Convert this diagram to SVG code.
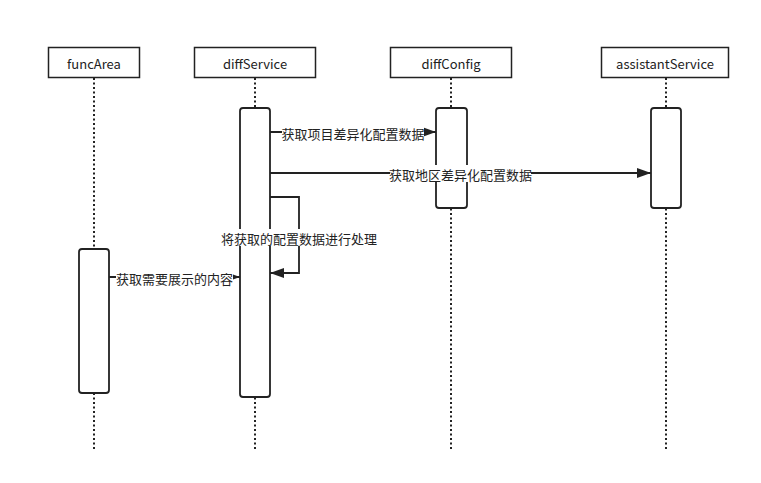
<svg xmlns="http://www.w3.org/2000/svg" width="761" height="483" viewBox="0 0 761 483">
<style>
text{font-family:"Noto Sans CJK SC","Microsoft YaHei",sans-serif;font-size:13px;fill:#222;text-anchor:middle;dominant-baseline:central}
.box{fill:#fff;stroke:#222;stroke-width:1.5}
.act{fill:#fff;stroke:#222;stroke-width:1.8}
.life{stroke:#222;stroke-width:2;stroke-dasharray:2 2.5;fill:none}
.msg{stroke:#222;stroke-width:1.8;fill:none}
.lbl{fill:#fff}
</style>
<defs>
<marker id="ah" markerWidth="14" markerHeight="10" refX="14" refY="5" orient="auto" markerUnits="userSpaceOnUse">
<path d="M0,0 L14,5 L0,10 z" fill="#222"/>
</marker>
</defs>
<rect width="761" height="483" fill="#fff"/>
<g id="lifelines">
<line class="life" x1="94" y1="78" x2="94" y2="450"/>
<line class="life" x1="255" y1="78" x2="255" y2="450"/>
<line class="life" x1="451" y1="78" x2="451" y2="450"/>
<line class="life" x1="666" y1="78" x2="666" y2="450"/>
</g>
<g id="funcArea"><rect class="box" x="48.5" y="47.5" width="91" height="30"/><text x="94" y="63">funcArea</text></g>
<g id="diffService"><rect class="box" x="194.5" y="47.5" width="121" height="30"/><text x="255" y="63">diffService</text></g>
<g id="diffConfig"><rect class="box" x="390.5" y="47.5" width="121" height="30"/><text x="451" y="63">diffConfig</text></g>
<g id="assistantService"><rect class="box" x="601.5" y="47.5" width="127" height="30"/><text x="665" y="63">assistantService</text></g>
<g id="activations">
<rect class="act" x="240" y="108" width="30" height="289" rx="3"/>
<rect class="act" x="436" y="108" width="31" height="100" rx="3"/>
<rect class="act" x="651" y="108" width="30" height="100" rx="3"/>
<rect class="act" x="79" y="249" width="30" height="144" rx="3"/>
</g>
<g id="connectors">
<line class="msg" x1="270" y1="132" x2="436" y2="132" marker-end="url(#ah)"/>
<rect class="lbl" x="282" y="124" width="142" height="17"/>
<text x="353" y="133">获取项目差异化配置数据</text>
<line class="msg" x1="270" y1="173" x2="651" y2="173" marker-end="url(#ah)"/>
<rect class="lbl" x="390" y="165" width="141" height="17"/>
<text x="460.5" y="174">获取地区差异化配置数据</text>
<polyline class="msg" points="270,197 299,197 299,273 270,273" marker-end="url(#ah)"/>
<rect class="lbl" x="221" y="229" width="156" height="17"/>
<text x="299" y="238">将获取的配置数据进行处理</text>
<line class="msg" x1="109" y1="277" x2="240" y2="277" marker-end="url(#ah)"/>
<rect class="lbl" x="116" y="269" width="117" height="17"/>
<text x="174.5" y="278">获取需要展示的内容</text>
</g>
</svg>
